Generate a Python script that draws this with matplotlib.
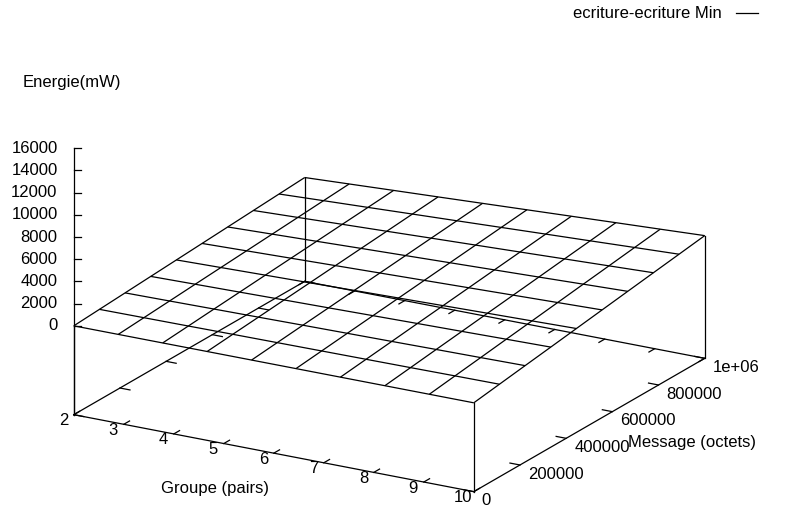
import numpy as np
import matplotlib.pyplot as plt
from matplotlib.lines import Line2D
from mpl_toolkits.mplot3d import proj3d

plt.rcParams['font.family'] = ['Liberation Sans', 'DejaVu Sans']
plt.rcParams['font.size'] = 12

# surface grid (gnuplot dgrid3d 10x10)
groupe = [2, 2.889, 3.778, 4.667, 5.556, 6.444, 7.333, 8.222, 9.111, 10]
message = [0, 111111, 222222, 333333, 444444, 555556, 666667, 777778, 888889, 1000000]

# energie (mW): one row per message size, one column per groupe value
energie = [
    [0, 0, 0, 0, 0, 0, 0, 0, 0, 0],
    [150, 170, 190, 215, 235, 255, 275, 295, 320, 340],
    [300, 340, 385, 425, 470, 510, 550, 595, 635, 680],
    [450, 515, 575, 640, 700, 765, 830, 890, 955, 1015],
    [600, 685, 770, 850, 935, 1020, 1105, 1190, 1270, 1355],
    [750, 855, 960, 1065, 1170, 1275, 1380, 1485, 1590, 1695],
    [900, 1025, 1150, 1280, 1405, 1530, 1655, 1780, 1910, 2035],
    [1050, 1195, 1345, 1490, 1640, 1785, 1930, 2080, 2225, 2375],
    [1200, 1370, 1535, 1705, 1870, 2040, 2210, 2375, 2545, 2710],
    [1350, 1540, 1730, 1915, 2105, 2295, 2485, 2675, 2860, 3050],
]

x_ticks = [2, 3, 4, 5, 6, 7, 8, 9, 10]
y_ticks = [0, 200000, 400000, 600000, 800000, 1000000]
y_tick_labels = ['0', '200000', '400000', '600000', '800000', '1e+06']
z_ticks = [0, 2000, 4000, 6000, 8000, 10000, 12000, 14000, 16000]

x_min, x_max = 2, 10
y_min, y_max = 0, 1000000
z_max = 16000
z_base = -0.5 * z_max   # gnuplot ticslevel 0.5
dx = x_max - x_min
dy = y_max - y_min

W, H = 786, 508
fig = plt.figure(figsize=(W / 100, H / 100), dpi=100)
ax = fig.add_axes([0, 0, 1, 1], projection='3d')
ax.set_proj_type('ortho')
ax.view_init(elev=19.47, azim=-60)
ax.set_box_aspect((1, 1, 0.612))
ax.set_axis_off()

kw = dict(color='black', linewidth=0.9)

# surface mesh
X, Y = np.meshgrid(groupe, message)
Z = np.array(energie)
ax.plot_wireframe(X, Y, Z, **kw)

# base rectangle
ax.plot([x_min, x_max, x_max, x_min, x_min], [y_min, y_min, y_max, y_max, y_min],
        [z_base] * 5, **kw)

# verticals from the base up to the surface corners
for i, j in [(0, 0), (-1, 0), (-1, -1), (0, -1)]:
    ax.plot([groupe[i]] * 2, [message[j]] * 2, [z_base, energie[j][i]], **kw)

# z axis on the left
ax.plot([x_min, x_min], [y_min, y_min], [z_base, z_max], **kw)

# x ticks (front, mirrored on back)
t = 0.025
for xt in x_ticks:
    ax.plot([xt, xt], [y_min, y_min + t * dy], [z_base, z_base], **kw)
    ax.plot([xt, xt], [y_max, y_max - t * dy], [z_base, z_base], **kw)
    ax.text(xt, y_min - 0.045 * dy, z_base, str(xt), ha='center', va='center')

# y ticks (right, mirrored on left)
for yt, lab in zip(y_ticks, y_tick_labels):
    ax.plot([x_max, x_max - t * dx], [yt, yt], [z_base, z_base], **kw)
    ax.plot([x_min, x_min + t * dx], [yt, yt], [z_base, z_base], **kw)
    ax.text(x_max + 0.02 * dx, yt, z_base, lab, ha='left', va='top')

# z ticks: horizontal on screen
tz = 0.015
for zt in z_ticks:
    ax.plot([x_min, x_min + 0.866 * tz * dx], [y_min, y_min + 0.5 * tz * dy], [zt, zt], **kw)
    ax.text(x_min - 0.866 * 0.035 * dx, y_min - 0.5 * 0.035 * dy, zt, str(zt),
            ha='right', va='center')

ax.set_xlim(x_min, x_max)
ax.set_ylim(y_min, y_max)
ax.set_zlim(z_base, z_max)

# place the axes so the base box lands where gnuplot put it
fig.canvas.draw()
corners = [(x_min, y_min), (x_max, y_min), (x_max, y_max), (x_min, y_max)]
target = [(73, 415), (474, 490), (705, 358), (305, 283)]
bb = ax.get_position().transformed(fig.transFigure)
rows, rhs = [], []
for (cx, cy), (tx, ty) in zip(corners, target):
    xs, ys, _ = proj3d.proj_transform(cx, cy, z_base, ax.get_proj())
    px, py = ax.transData.transform((xs, ys))
    rows += [[1, 0, (px - bb.x0) / bb.width], [0, 1, (py - bb.y0) / bb.height]]
    rhs += [tx, H - ty]
x0, y0, side = np.linalg.lstsq(np.array(rows), np.array(rhs), rcond=None)[0]
ax.set_position([x0 / W, y0 / H, side / W, side / H])

# axis titles
fig.text(215 / W, 1 - 488 / H, 'Groupe (pairs)', ha='center', va='center')
fig.text(628 / W, 1 - 443 / H, 'Message (octets)', ha='left', va='center')
fig.text(72 / W, 1 - 83 / H, 'Energie(mW)', ha='center', va='center')

fig.legend(handles=[Line2D([], [], **kw)], labels=['ecriture-ecriture Min'],
           loc='center right', bbox_to_anchor=(758 / W, 1 - 14 / H),
           markerfirst=False, frameon=False, handlelength=1.3, handletextpad=0.9,
           borderaxespad=0, borderpad=0)

fig.savefig('out.png', dpi=100)
